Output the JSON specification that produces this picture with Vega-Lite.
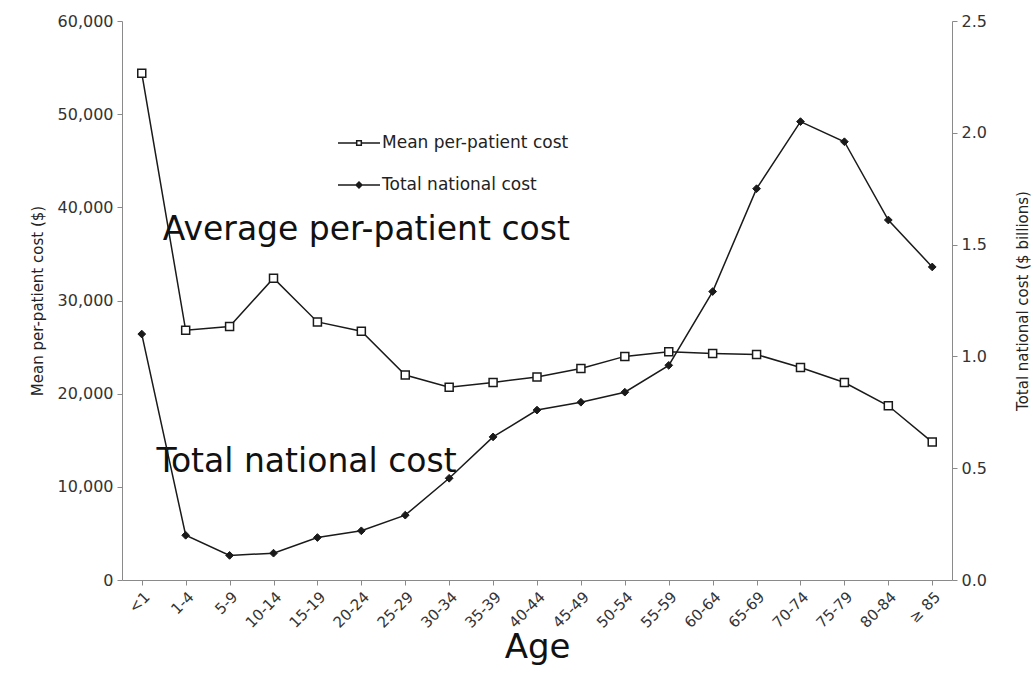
{
  "$schema": "https://vega.github.io/schema/vega-lite/v6.json",
  "width": 830,
  "height": 559,
  "autosize": {"type": "none"},
  "padding": {"left": 122, "top": 21, "right": 81, "bottom": 102},
  "background": "white",
  "config": {
    "view": {"stroke": null},
    "font": "DejaVu Sans",
    "axis": {
      "grid": false,
      "domainColor": "#8a8a8a",
      "tickColor": "#8a8a8a",
      "labelColor": "#333333",
      "titleColor": "#222222",
      "labelFont": "DejaVu Sans",
      "titleFont": "DejaVu Sans",
      "titleFontWeight": "normal"
    }
  },
  "data": {
    "values": [
      {"age": "<1", "mean": 54400, "total": 1.10},
      {"age": "1-4", "mean": 26800, "total": 0.20},
      {"age": "5-9", "mean": 27200, "total": 0.11},
      {"age": "10-14", "mean": 32400, "total": 0.12},
      {"age": "15-19", "mean": 27700, "total": 0.19},
      {"age": "20-24", "mean": 26700, "total": 0.22},
      {"age": "25-29", "mean": 22000, "total": 0.29},
      {"age": "30-34", "mean": 20700, "total": 0.455},
      {"age": "35-39", "mean": 21200, "total": 0.64},
      {"age": "40-44", "mean": 21800, "total": 0.76},
      {"age": "45-49", "mean": 22700, "total": 0.795},
      {"age": "50-54", "mean": 24000, "total": 0.84},
      {"age": "55-59", "mean": 24500, "total": 0.96},
      {"age": "60-64", "mean": 24300, "total": 1.29},
      {"age": "65-69", "mean": 24200, "total": 1.75},
      {"age": "70-74", "mean": 22800, "total": 2.05},
      {"age": "75-79", "mean": 21200, "total": 1.96},
      {"age": "80-84", "mean": 18700, "total": 1.61},
      {"age": "≥ 85", "mean": 14800, "total": 1.40}
    ]
  },
  "encoding": {
    "x": {
      "field": "age",
      "type": "ordinal",
      "scale": {
        "type": "point",
        "padding": 0.45,
        "domain": ["<1", "1-4", "5-9", "10-14", "15-19", "20-24", "25-29", "30-34", "35-39", "40-44", "45-49", "50-54", "55-59", "60-64", "65-69", "70-74", "75-79", "80-84", "≥ 85"]
      },
      "axis": {
        "title": "Age",
        "labelAngle": -45,
        "labelFontSize": 15,
        "titleFontSize": 34,
        "titleColor": "#111111",
        "titleBaseline": "alphabetic",
        "titleY": 77,
        "tickSize": 5,
        "labelPadding": 4
      }
    }
  },
  "layer": [
    {
      "layer": [
        {
          "mark": {"type": "line", "color": "#1a1a1a", "strokeWidth": 1.5},
          "encoding": {
            "y": {
              "field": "mean",
              "type": "quantitative",
              "scale": {"domain": [0, 60000], "nice": false},
              "axis": {
                "title": "Mean per-patient cost ($)",
                "values": [0, 10000, 20000, 30000, 40000, 50000, 60000],
                "format": ",.0f",
                "labelFontSize": 16,
                "titleFontSize": 15,
                "tickSize": 5,
                "labelPadding": 4,
                "titlePadding": 12
              }
            }
          }
        },
        {
          "mark": {"type": "point", "shape": "square", "filled": true, "stroke": "#1a1a1a", "strokeWidth": 1.5, "size": 64, "opacity": 1},
          "encoding": {
            "y": {"field": "mean", "type": "quantitative"},
            "fill": {
              "datum": "Mean per-patient cost",
              "scale": {"domain": ["Mean per-patient cost", "Total national cost"], "range": ["white", "#1a1a1a"]},
              "legend": {
                "title": null,
                "orient": "none",
                "legendX": 215,
                "legendY": 100,
                "labelFontSize": 17,
                "labelFont": "DejaVu Sans",
                "labelColor": "#222222",
                "labelLimit": 400,
                "symbolSize": 1764,
                "symbolType": {"expr": "datum.value === 'Mean per-patient cost' ? 'M-1,0H-0.11M0.11,0H1M-0.11,-0.11H0.11V0.11H-0.11Z' : 'M-1,0H1M0,-0.14L0.14,0L0,0.14L-0.14,0Z'"},
                "symbolStrokeColor": "#1a1a1a",
                "symbolStrokeWidth": 1.5,
                "symbolOpacity": 1,
                "labelOffset": 1,
                "rowPadding": 12,
                "padding": 0
              }
            }
          }
        },
        {
          "data": {"values": [{"label": "Average per-patient cost"}]},
          "mark": {"type": "text", "fontSize": 33, "font": "DejaVu Sans", "color": "#111111", "align": "center", "baseline": "alphabetic", "dx": 5},
          "encoding": {
            "x": {"datum": "20-24", "type": "ordinal"},
            "y": {"datum": 36480, "type": "quantitative"},
            "text": {"field": "label"}
          }
        },
        {
          "data": {"values": [{"label": "Total national cost"}]},
          "mark": {"type": "text", "fontSize": 33, "font": "DejaVu Sans", "color": "#111111", "align": "center", "baseline": "alphabetic", "dx": 33},
          "encoding": {
            "x": {"datum": "10-14", "type": "ordinal"},
            "y": {"datum": 11590, "type": "quantitative"},
            "text": {"field": "label"}
          }
        }
      ]
    },
    {
      "layer": [
        {
          "mark": {"type": "line", "color": "#1a1a1a", "strokeWidth": 1.5},
          "encoding": {
            "y": {
              "field": "total",
              "type": "quantitative",
              "scale": {"domain": [0, 2.5], "nice": false},
              "axis": {
                "orient": "right",
                "title": "Total national cost ($ billions)",
                "values": [0, 0.5, 1, 1.5, 2, 2.5],
                "format": ".1f",
                "labelFontSize": 16,
                "titleFontSize": 15,
                "titleAngle": 270,
                "tickSize": 5,
                "labelPadding": 4,
                "titlePadding": 44
              }
            }
          }
        },
        {
          "mark": {"type": "point", "shape": "diamond", "filled": true, "stroke": "#1a1a1a", "strokeWidth": 1, "size": 60, "opacity": 1},
          "encoding": {
            "y": {"field": "total", "type": "quantitative"},
            "fill": {"datum": "Total national cost"}
          }
        }
      ]
    }
  ],
  "resolve": {"scale": {"y": "independent"}}
}
